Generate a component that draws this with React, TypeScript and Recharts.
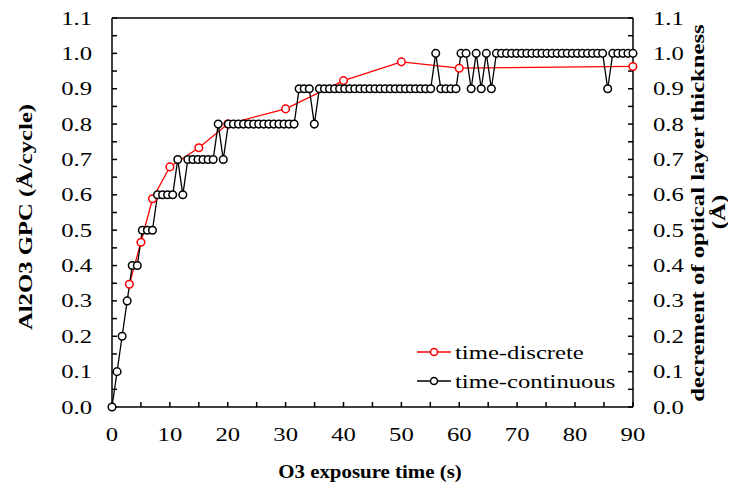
import React from 'react';
import { LineChart, Line, XAxis, YAxis, ReferenceLine, Legend } from 'recharts';

// time-discrete runs: one GPC value per O3 exposure time
const discreteTime = [3, 5, 7, 10, 15, 20, 30, 40, 50, 60, 90];
const discreteGpc = [0.347, 0.466, 0.589, 0.679, 0.733, 0.8, 0.843, 0.923, 0.976, 0.958, 0.963];

// time-continuous run: readings taken every ~0.874 s from 0 to 90 s
const sampleInterval = 0.874;
const continuousDecrement = [
    0, 0.1, 0.2, 0.3, 0.4, 0.4, 0.5, 0.5, 0.5, 0.6,
    0.6, 0.6, 0.6, 0.7, 0.6, 0.7, 0.7, 0.7, 0.7, 0.7,
    0.7, 0.8, 0.7, 0.8, 0.8, 0.8, 0.8, 0.8, 0.8, 0.8,
    0.8, 0.8, 0.8, 0.8, 0.8, 0.8, 0.8, 0.9, 0.9, 0.9,
    0.8, 0.9, 0.9, 0.9, 0.9, 0.9, 0.9, 0.9, 0.9, 0.9,
    0.9, 0.9, 0.9, 0.9, 0.9, 0.9, 0.9, 0.9, 0.9, 0.9,
    0.9, 0.9, 0.9, 0.9, 1.0, 0.9, 0.9, 0.9, 0.9, 1.0,
    1.0, 0.9, 1.0, 0.9, 1.0, 0.9, 1.0, 1.0, 1.0, 1.0,
    1.0, 1.0, 1.0, 1.0, 1.0, 1.0, 1.0, 1.0, 1.0, 1.0,
    1.0, 1.0, 1.0, 1.0, 1.0, 1.0, 1.0, 1.0, 0.9, 1.0,
    1.0, 1.0, 1.0, 1.0,
];

const xTicks = [0, 5, 10, 15, 20, 25, 30, 35, 40, 45, 50, 55, 60, 65, 70, 75, 80, 85, 90];
const yTicks = [
    0, 0.05, 0.1, 0.15, 0.2, 0.25, 0.3, 0.35, 0.4, 0.45, 0.5, 0.55,
    0.6, 0.65, 0.7, 0.75, 0.8, 0.85, 0.9, 0.95, 1.0, 1.05, 1.1,
];

const discreteData = discreteTime.map((t, i) => ({ t, gpc: discreteGpc[i] }));
const continuousData = continuousDecrement.map((v, i) => ({ t: +(i * sampleInterval).toFixed(3), dec: v }));

const FONT = '"Liberation Serif", "Times New Roman", serif';

// text stretched along its own direction, like the original
const StretchText = ({ x, y, anchor = 'start', size = 19, bold = false, rotate = 0, sx = 1.3, children }: any) => (
    <text
        transform={`translate(${x},${y})${rotate ? ` rotate(${rotate})` : ''} scale(${sx},1)`}
        textAnchor={anchor}
        fontSize={size}
        fontWeight={bold ? 'bold' : 'normal'}
        fontFamily={FONT}
        fill="#000"
    >
        {children}
    </text>
);

const isMajor = (v: number, step: number) => Math.abs(v / step - Math.round(v / step)) < 1e-6;

const LeftTick = ({ x, y, payload }: any) =>
    isMajor(payload.value, 0.1) ? (
        <StretchText x={x} y={y + 6.5} anchor="end">{payload.value.toFixed(1)}</StretchText>
    ) : <g />;

const RightTick = ({ x, y, payload }: any) =>
    isMajor(payload.value, 0.1) ? (
        <StretchText x={x} y={y + 6.5} anchor="start">{payload.value.toFixed(1)}</StretchText>
    ) : <g />;

const BottomTick = ({ x, y, payload }: any) =>
    isMajor(payload.value, 10) ? (
        <StretchText x={x} y={y + 14} anchor="middle">{payload.value}</StretchText>
    ) : <g />;

const legendItems = [
    { label: 'time-discrete', color: '#ff0000' },
    { label: 'time-continuous', color: '#000000' },
];

const LegendBox = () => (
    <svg width={220} height={60}>
        {legendItems.map((item, i) => {
            const cy = 9 + i * 29;
            return (
                <g key={item.label}>
                    <line x1={4} x2={38} y1={cy} y2={cy} stroke={item.color} strokeWidth={1.5} />
                    <circle cx={21} cy={cy} r={3.5} fill="#fff" stroke={item.color} strokeWidth={1.5} />
                    <StretchText x={42} y={cy + 7}>{item.label}</StretchText>
                </g>
            );
        })}
    </svg>
);

export default function App() {
    return (
        <LineChart width={720} height={476} margin={{ top: 10, right: 0, bottom: 0, left: 0 }}>
            <XAxis
                dataKey="t"
                type="number"
                domain={[0, 90]}
                ticks={xTicks}
                interval={0}
                allowDuplicatedCategory={false}
                height={77}
                axisLine={{ stroke: '#000', strokeWidth: 1.5 }}
                tickLine={{ stroke: '#000', strokeWidth: 1.5 }}
                tickSize={-5}
                tickMargin={25}
                tick={<BottomTick />}
                label={{
                    content: () => (
                        <StretchText x={362} y={470} anchor="middle" bold sx={1.1}>O3 exposure time (s)</StretchText>
                    ),
                }}
            />
            <YAxis
                yAxisId="left"
                type="number"
                domain={[0, 1.1]}
                ticks={yTicks}
                interval={0}
                width={104}
                axisLine={{ stroke: '#000', strokeWidth: 1.5 }}
                tickLine={{ stroke: '#000', strokeWidth: 1.5 }}
                tickSize={-5}
                tickMargin={25}
                tick={<LeftTick />}
                label={{
                    content: () => (
                        <StretchText x={24} y={209} anchor="middle" bold rotate={-90}>Al2O3 GPC (Å/cycle)</StretchText>
                    ),
                }}
            />
            <YAxis
                yAxisId="right"
                orientation="right"
                type="number"
                domain={[0, 1.1]}
                ticks={yTicks}
                interval={0}
                width={95}
                axisLine={{ stroke: '#000', strokeWidth: 1.5 }}
                tickLine={{ stroke: '#000', strokeWidth: 1.5 }}
                tickSize={-5}
                tickMargin={25}
                tick={<RightTick />}
                label={{
                    content: () => (
                        <g>
                            <StretchText x={696} y={205} anchor="middle" bold rotate={-90}>decrement of optical layer thickness</StretchText>
                            <StretchText x={717} y={204} anchor="middle" bold rotate={-90}>(Å)</StretchText>
                        </g>
                    ),
                }}
            />
            <ReferenceLine yAxisId="left" y={1.1} stroke="#000" strokeWidth={1.5} />
            <Line
                yAxisId="left"
                data={discreteData}
                dataKey="gpc"
                stroke="#ff0000"
                strokeWidth={1.3}
                dot={{ r: 3.8, fill: '#fff', stroke: '#ff0000', strokeWidth: 1.5 }}
                isAnimationActive={false}
                legendType="none"
            />
            <Line
                yAxisId="right"
                data={continuousData}
                dataKey="dec"
                stroke="#000"
                strokeWidth={1.3}
                dot={{ r: 3.8, fill: '#fff', stroke: '#000', strokeWidth: 1.5 }}
                isAnimationActive={false}
                legendType="none"
            />
            <Legend
                layout="vertical"
                align="center"
                verticalAlign="middle"
                content={<LegendBox />}
                wrapperStyle={{ left: 405, top: 335, width: 220, height: 60 }}
            />
        </LineChart>
    );
}
